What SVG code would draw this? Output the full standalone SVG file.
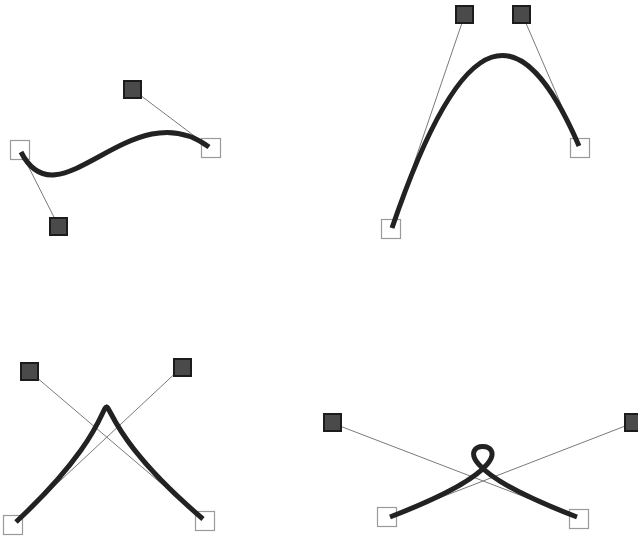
<svg xmlns="http://www.w3.org/2000/svg" width="638" height="539" viewBox="0 0 638 539">
<style>
.anchor{fill:none;stroke:#9a9a9a;stroke-width:1.2}
.ctrl{fill:#4a4a4a;stroke:#1c1c1c;stroke-width:2}
.tan{stroke:#7a7a7a;stroke-width:1;fill:none}
.curve{stroke:#222;stroke-width:5;fill:none;stroke-linecap:butt;stroke-linejoin:round}
</style>
<rect width="638" height="539" fill="#fff"/>
<g id="anchors">
<g id="p1-start"><rect class="anchor" x="10.5" y="140.5" width="19" height="19"/></g>
<g id="p1-end"><rect class="anchor" x="201.5" y="138.5" width="19" height="19"/></g>
<g id="p2-start"><rect class="anchor" x="381.5" y="219.5" width="19" height="19"/></g>
<g id="p2-end"><rect class="anchor" x="570.5" y="138.5" width="19" height="19"/></g>
<g id="p3-start"><rect class="anchor" x="3.5" y="515.5" width="19" height="19"/></g>
<g id="p3-end"><rect class="anchor" x="195.5" y="511.5" width="19" height="19"/></g>
<g id="p4-start"><rect class="anchor" x="377.5" y="507.5" width="19" height="19"/></g>
<g id="p4-end"><rect class="anchor" x="569.5" y="509.5" width="19" height="19"/></g>
</g>
<g id="connectors">
<line class="tan" x1="21" y1="152" x2="59" y2="227"/>
<line class="tan" x1="209" y1="147" x2="132" y2="89"/>
<line class="tan" x1="392" y1="228" x2="465" y2="14"/>
<line class="tan" x1="579" y1="146" x2="522" y2="14"/>
<line class="tan" x1="16" y1="522" x2="182" y2="367"/>
<line class="tan" x1="203" y1="519" x2="29" y2="371"/>
<line class="tan" x1="390" y1="517" x2="633" y2="423"/>
<line class="tan" x1="577" y1="517" x2="332" y2="423"/>
</g>
<g id="controls">
<g id="p1-c1"><rect class="ctrl" x="50" y="218" width="17" height="17"/></g>
<g id="p1-c2"><rect class="ctrl" x="124" y="81" width="17" height="17"/></g>
<g id="p2-c1"><rect class="ctrl" x="456" y="6" width="17" height="17"/></g>
<g id="p2-c2"><rect class="ctrl" x="513" y="6" width="17" height="17"/></g>
<g id="p3-c1"><rect class="ctrl" x="21" y="363" width="17" height="17"/></g>
<g id="p3-c2"><rect class="ctrl" x="174" y="359" width="17" height="17"/></g>
<g id="p4-c1"><rect class="ctrl" x="324" y="414" width="17" height="17"/></g>
<g id="p4-c2"><rect class="ctrl" x="625" y="414" width="17" height="17"/></g>
</g>
<g id="curves">
<path class="curve" d="M21,152 C59,227 132,89 209,147"/>
<path class="curve" d="M392,228 C465,14 522,14 579,146"/>
<path class="curve" d="M16,522 C182,367 29,371 203,519"/>
<path class="curve" d="M390,517 C633,423 332,423 577,517"/>
</g>
</svg>
